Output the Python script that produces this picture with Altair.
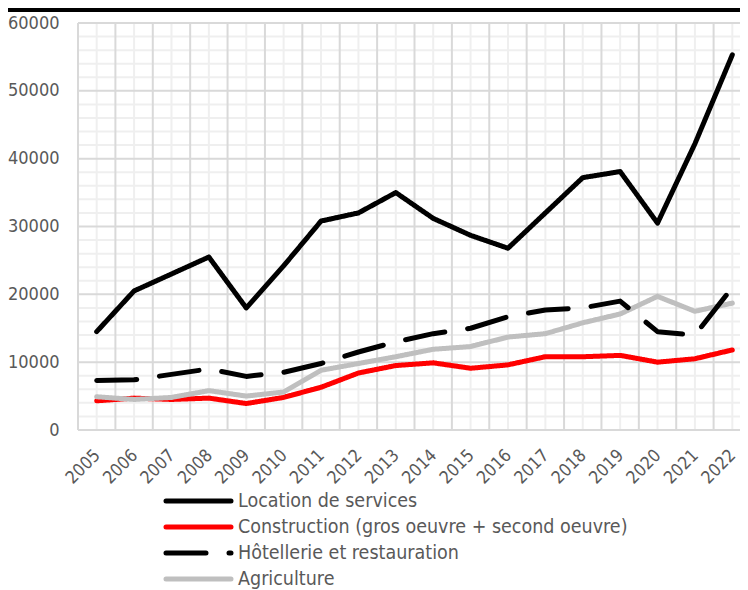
import altair as alt
import pandas as pd

years = list(range(2005, 2023))
location = [14500, 20500, 23000, 25500, 18000, 24200, 30800, 32000, 35000, 31200,
            28700, 26800, 32000, 37200, 38100, 30500, 42200, 55300]
construction = [4300, 4700, 4500, 4700, 3900, 4800, 6300, 8400, 9500, 9900,
                9100, 9600, 10800, 10800, 11000, 10000, 10500, 11800]
hotellerie = [7300, 7400, 8200, 9000, 7900, 8500, 9800, 11500, 13000, 14200,
              15000, 16700, 17700, 18000, 19000, 14500, 14000, 21000]
agriculture = [4900, 4500, 4800, 5800, 5000, 5600, 8800, 9800, 10800, 11900,
               12300, 13700, 14200, 15800, 17100, 19700, 17500, 18700]

series_names = ["Location de services",
                "Construction (gros oeuvre + second oeuvre)",
                "Hôtellerie et restauration",
                "Agriculture"]
series_values = [location, construction, hotellerie, agriculture]
series_colors = ["#000000", "#ff0000", "#000000", "#bfbfbf"]
series_dashes = [[1, 0], [1, 0], [40, 23], [1, 0]]
draw_order = [1, 3, 2, 0]

y_major = list(range(0, 60001, 10000))
y_minor = [v for v in range(0, 60001, 2000) if v % 10000 != 0]
x_major = [y - 0.5 for y in years] + [years[-1] + 0.5]

FONT = "DejaVu Sans Condensed, Liberation Sans Narrow, sans-serif"
TXT = "#595959"
W, H = 662, 407      # visible plot width (the plot runs past the right edge, as in the original)
PLOT_SPAN = 673

xscale = alt.Scale(domain=[years[0] - 0.5, years[-1] + 0.5], range=[0, PLOT_SPAN],
                   nice=False, zero=False)
yscale = alt.Scale(domain=[0, 60000], nice=False)
color_scale = alt.Scale(domain=series_names, range=series_colors)
dash_scale = alt.Scale(domain=series_names, range=series_dashes)
legend_y = alt.Scale(type="point", domain=series_names, range=[478, 556], padding=0)

X_AXIS = alt.Axis(values=years, format="d", labelAngle=315, grid=False, ticks=False,
                  domain=False, labelFont=FONT, labelFontSize=17.5, labelColor=TXT,
                  labelPadding=16, labelOffset=-6, labelOverlap=False, title=None)
Y_AXIS = alt.Axis(values=y_major, format="d", grid=False, ticks=False, domain=False,
                  labelFont=FONT, labelFontSize=18, labelColor=TXT, labelPadding=19,
                  title=None)

rows = []
for i, name in enumerate(series_names):
    for yr, v in zip(years, series_values[i]):
        rows.append({"series": name, "year": yr, "value": v})
df = pd.DataFrame(rows)
legend_df = pd.DataFrame({"series": series_names})

# grid layers
minor_v = alt.Chart(pd.DataFrame({"x": years})).mark_rule(color="#efefef", strokeWidth=2).encode(
    x=alt.X("x:Q", scale=xscale, axis=X_AXIS))
minor_h = alt.Chart(pd.DataFrame({"y": y_minor})).mark_rule(color="#efefef", strokeWidth=2).encode(
    y=alt.Y("y:Q", scale=yscale, axis=None), x=alt.value(0), x2=alt.value(PLOT_SPAN))
major_v = alt.Chart(pd.DataFrame({"x": x_major})).mark_rule(color="#d9d9d9", strokeWidth=2).encode(
    x=alt.X("x:Q", scale=xscale, axis=X_AXIS))
major_h = alt.Chart(pd.DataFrame({"y": y_major})).mark_rule(color="#d9d9d9", strokeWidth=2).encode(
    y=alt.Y("y:Q", scale=yscale, axis=Y_AXIS), x=alt.value(0), x2=alt.value(PLOT_SPAN))

lines = []
for idx in draw_order:
    name = series_names[idx]
    lines.append(
        alt.Chart(df[df["series"] == name]).mark_line(
            strokeWidth=5, strokeCap="round", strokeJoin="round"
        ).encode(
            x=alt.X("year:Q", scale=xscale, axis=X_AXIS),
            y=alt.Y("value:Q", scale=yscale, axis=None),
            color=alt.Color("series:N", scale=color_scale, legend=None),
            strokeDash=alt.StrokeDash("series:N", scale=dash_scale, legend=None),
        )
    )

# legend (below the plot)
leg_sym = alt.Chart(legend_df).mark_rule(strokeWidth=5, strokeCap="round").encode(
    x=alt.value(88), x2=alt.value(153),
    y=alt.Y("series:N", scale=legend_y, axis=None),
    color=alt.Color("series:N", scale=color_scale, legend=None),
    strokeDash=alt.StrokeDash("series:N", scale=dash_scale, legend=None),
)
leg_txt = alt.Chart(legend_df).mark_text(
    align="left", baseline="middle", font=FONT, fontSize=19.5, color=TXT
).encode(
    x=alt.value(160),
    y=alt.Y("series:N", scale=legend_y, axis=None),
    text="series:N",
)

topbar = alt.Chart(pd.DataFrame({"a": [0]})).mark_rect(color="#000000").encode(
    x=alt.value(-70), x2=alt.value(W), y=alt.value(-15), y2=alt.value(-11))

chart = alt.layer(minor_v, minor_h, major_v, major_h, *lines, leg_sym, leg_txt, topbar).resolve_scale(
    y="independent"
).properties(
    width=W, height=H,
    autosize=alt.AutoSizeParams(type="none"),
    padding={"left": 70, "top": 15, "right": 0, "bottom": 170},
    background="#ffffff",
).configure_view(stroke=None)

chart.save("out.html", embed_options={"renderer": "svg", "actions": False})
